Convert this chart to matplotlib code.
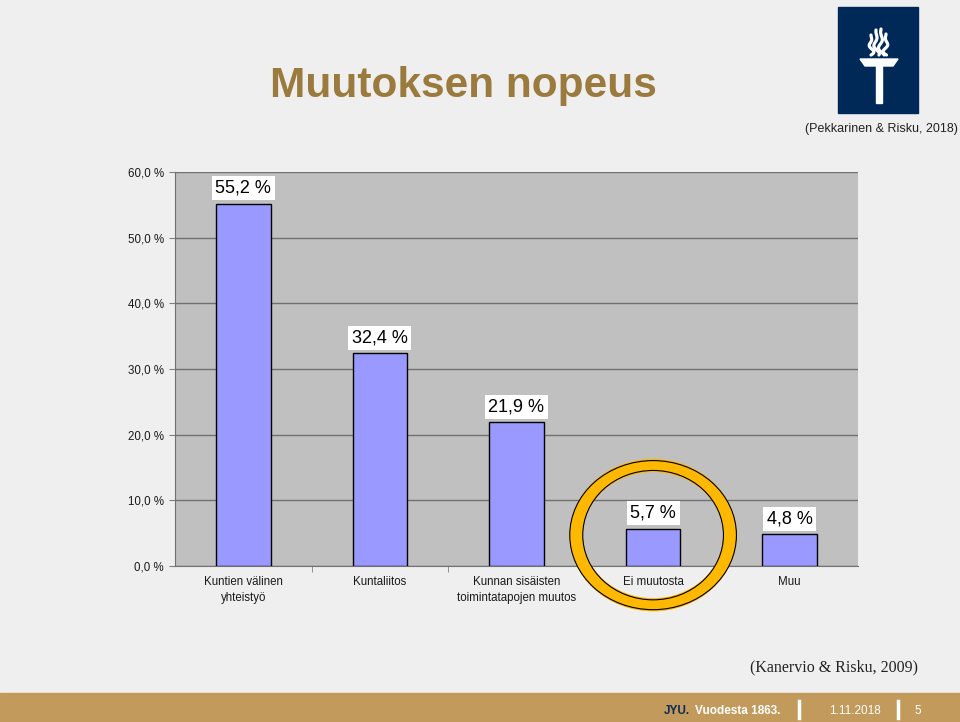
import matplotlib.pyplot as plt
import numpy as np
from matplotlib.patches import Ellipse, Rectangle, Polygon

luokat = ["Kuntien välinen\nyhteistyö", "Kuntaliitos", "Kunnan sisäisten\ntoimintatapojen muutos",
          "Ei muutosta", "Muu"]
arvot = [55.2, 32.4, 21.9, 5.7, 4.8]
arvo_tekstit = ["55,2 %", "32,4 %", "21,9 %", "5,7 %", "4,8 %"]
y_tikit = [0, 10, 20, 30, 40, 50, 60]
y_tekstit = ["0,0 %", "10,0 %", "20,0 %", "30,0 %", "40,0 %", "50,0 %", "60,0 %"]

W, H = 960, 722
fig = plt.figure(figsize=(W / 100, H / 100), dpi=100)
fig.patch.set_facecolor("#efefef")

# koristeet pikselikoordinaateissa
deco = fig.add_axes([0, 0, 1, 1])
deco.set_xlim(0, W)
deco.set_ylim(H, 0)
deco.axis("off")

deco.add_patch(Rectangle((0, 693), W, 29, color="#c29a5c", zorder=1))
deco.text(463, 86, "Muutoksen nopeus", ha="center", va="center", fontsize=30.5,
          fontweight="bold", color="#9b7a3e", family="Liberation Sans")
deco.text(958, 129, "(Pekkarinen & Risku, 2018)", ha="right", va="center", fontsize=9,
          color="#222222", family="Liberation Sans")
deco.text(918, 667, "(Kanervio & Risku, 2009)", ha="right", va="center", fontsize=11.5,
          color="#222222", family="Liberation Serif")

# alapalkin tekstit
deco.text(664, 711, "JYU.", ha="left", va="center", fontsize=8.5, fontweight="bold",
          color="#0d2a55", family="Liberation Sans")
deco.text(695, 711, "Vuodesta 1863.", ha="left", va="center", fontsize=8.5,
          fontweight="bold", color="white", family="Liberation Sans")
deco.plot([799, 799], [701, 718], color="white", lw=2.5)
deco.text(829, 711, "1.11.2018", ha="left", va="center", fontsize=8.5,
          color="white", family="Liberation Sans")
deco.plot([898, 898], [701, 718], color="white", lw=2.5)
deco.text(914, 711, "5", ha="left", va="center", fontsize=8.5,
          color="white", family="Liberation Sans")

# logo
deco.add_patch(Rectangle((838, 7), 80, 106, color="#002957"))
deco.add_patch(Polygon([(860, 59), (898, 59), (893, 66), (865, 66)], color="white"))
deco.add_patch(Rectangle((876, 66), 6, 37, color="white"))
t = np.linspace(0, 1, 50)
for k, dx in enumerate([-8, -3, 2, 7]):
    xs = 879 + dx + 3.5 * np.sin(t * 3 * np.pi + k) * (1 - t)
    ys = 55 - t * (28 - abs(dx))
    deco.plot(xs, ys, color="white", lw=2.3, solid_capstyle="round")

# kaavio
ax = fig.add_axes([175 / W, 1 - 566 / H, 683 / W, 394 / H])
ax.set_facecolor("#c0c0c0")
x = np.arange(len(arvot))
ax.bar(x, arvot, width=0.4, color="#9999ff", edgecolor="black", linewidth=1, zorder=3)
ax.set_xlim(-0.5, len(arvot) - 0.5)
ax.set_ylim(0, 60)
ax.set_yticks(y_tikit)
ax.set_yticklabels(y_tekstit, fontsize=8.3, color="#1a1a1a", family="Liberation Sans")
ax.set_xticks(x)
ax.set_xticklabels(luokat, fontsize=8.3, color="#1a1a1a", family="Liberation Sans",
                   linespacing=1.45)
ax.set_xticks(np.arange(len(arvot) - 1) + 0.5, minor=True)
ax.tick_params(axis="x", which="major", length=0, pad=7)
ax.tick_params(axis="x", which="minor", length=4, color="#808080", direction="out")
ax.tick_params(axis="y", length=4, color="#808080", pad=4)
ax.grid(axis="y", color="#707070", linewidth=1, zorder=1)
for s in ax.spines.values():
    s.set_color("#707070")
ax.spines["right"].set_visible(False)
ax.spines["top"].set_visible(False)

for xi, v, teksti in zip(x, arvot, arvo_tekstit):
    ax.annotate(teksti, xy=(xi, v), xytext=(0, 11), textcoords="offset points",
                ha="center", va="center", fontsize=13, family="Liberation Sans",
                color="black", zorder=5,
                bbox=dict(boxstyle="square,pad=0.2", fc="white", ec="none"))

# korostusrengas "Ei muutosta" -pylvään ympärillä
ax.add_patch(Ellipse((3, 4.7), 1.125, 21.2, fill=False, edgecolor="#ffb800",
                     linewidth=9.5, clip_on=False, zorder=6))
ax.add_patch(Ellipse((3, 4.7), 1.22, 22.7, fill=False, edgecolor="black",
                     linewidth=0.8, clip_on=False, zorder=7))
ax.add_patch(Ellipse((3, 4.7), 1.03, 19.7, fill=False, edgecolor="black",
                     linewidth=0.8, clip_on=False, zorder=7))

fig.savefig("out.png", dpi=100, facecolor=fig.get_facecolor())
